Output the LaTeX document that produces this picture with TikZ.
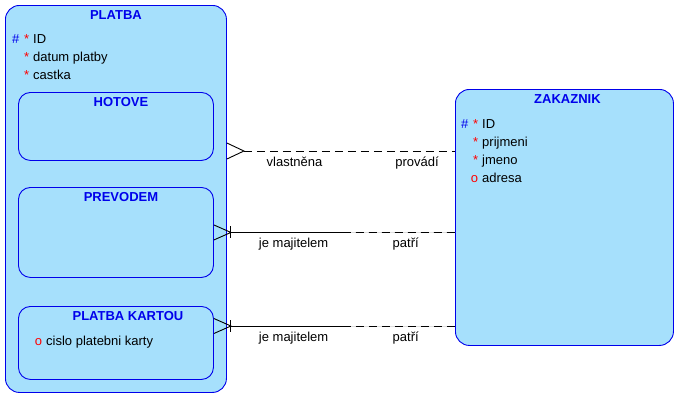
\documentclass[tikz,border=0pt]{standalone}
\usepackage{fontspec}
\setmainfont{Liberation Sans}
\usetikzlibrary{positioning, calc}

\definecolor{entfill}{RGB}{166,224,252}
\definecolor{entline}{RGB}{0,0,235}
\newcommand{\attrrow}[3]{\makebox[12pt][l]{\textcolor{entline}{#1}}\makebox[9pt][r]{\textcolor{red}{#2}\hspace{4pt}}#3}

\begin{document}
\begin{tikzpicture}[x=1pt,y=-1pt,
  entity/.style={rectangle,draw=entline,fill=entfill,line width=0.9pt,rounded corners=14pt,anchor=north west,inner sep=0pt},
  subentity/.style={entity,rounded corners=12pt},
  title/.style={font=\fontsize{13}{15}\selectfont\bfseries,text=entline,inner sep=0pt},
  attrs/.style={font=\fontsize{13}{18}\selectfont,align=left,anchor=north west,inner sep=0pt},
  rel/.style={font=\fontsize{13}{15}\selectfont,inner sep=0pt,text height=9pt,text depth=3pt},
  link/.style={black,line width=0.9pt},
  opt/.style={link,dash pattern=on 8pt off 5pt}]
\useasboundingbox[fill=white] (0,0) rectangle (681,400);

% entities
\node (platba) [entity,minimum width=221pt,minimum height=387pt] at (5,5) {};
\node (hotove) [subentity,minimum width=195pt,minimum height=68pt] at (18,92) {};
\node (prevodem) [subentity,minimum width=195pt,minimum height=90pt] at (18,187) {};
\node (kartou) [subentity,minimum width=195pt,minimum height=73pt] at (18,306) {};
\node (zakaznik) [entity,minimum width=218pt,minimum height=256pt] at (455,89) {};

\node (platbaT) [title] at ($(platba.north)+(0,10)$) {PLATBA};
\node (hotoveT) [title] at ($(hotove.north)+(5,10)$) {HOTOVE};
\node (prevodemT) [title] at ($(prevodem.north)+(5,10)$) {PREVODEM};
\node (kartouT) [title] at ($(kartou.north)+(12,10)$) {PLATBA KARTOU};
\node (zakaznikT) [title] at ($(zakaznik.north)+(3,10)$) {ZAKAZNIK};

\node (platbaA) [attrs] at ($(platba.north west)+(7,26)$)
  {\rule{0pt}{12pt}\attrrow{\#}{*}{ID}\\ \attrrow{}{*}{datum platby}\\ \attrrow{}{*}{castka}};
\node (kartouA) [attrs] at ($(kartou.north west)+(7,27)$)
  {\rule{0pt}{12pt}\attrrow{}{o}{cislo platebni karty}};
\node (zakaznikA) [attrs] at ($(zakaznik.north west)+(6,27)$)
  {\rule{0pt}{12pt}\attrrow{\#}{*}{ID}\\ \attrrow{}{*}{prijmeni}\\ \attrrow{}{*}{jmeno}\\ \attrrow{}{o}{adresa}};

% relationships
\coordinate (r1a) at (platba.east |- 0,151);
\coordinate (r1b) at (zakaznik.west |- r1a);
\coordinate (r2a) at (prevodem.east);
\coordinate (r2b) at (zakaznik.west |- r2a);
\coordinate (r3a) at (kartou.east |- 0,326);
\coordinate (r3b) at (zakaznik.west |- r3a);

\draw [link] ($(r1a)+(0,-8)$) -- ($(r1a)+(17,0)$) -- ($(r1a)+(0,8)$);
\draw [opt] ($(r1a)+(17,0)$) -- node [rel,pos=0.24,yshift=-12pt] {vlastněna}
  node [rel,pos=0.82,yshift=-12pt] {provádí} (r1b);

\foreach \a/\b in {r2a/r2b, r3a/r3b} {
  \draw [link] ($(\a)+(0,-7.5)$) -- ($(\a)+(17,0)$) -- ($(\a)+(0,7.5)$);
  \draw [link] ($(\a)+(17,-6)$) -- ($(\a)+(17,6)$);
  \coordinate (m) at ($($(\a)+(17,0)$)!0.5!(\b)$);
  \draw [gray!25,line width=0.9pt] (m) -- (\b);
  \draw [link] ($(\a)+(17,0)$) -- node [rel,pos=0.56,yshift=-12pt] {je majitelem} (m);
  \draw [opt] (m) -- node [rel,pos=0.56,yshift=-12pt] {patří} (\b);
}
\end{tikzpicture}
\end{document}
